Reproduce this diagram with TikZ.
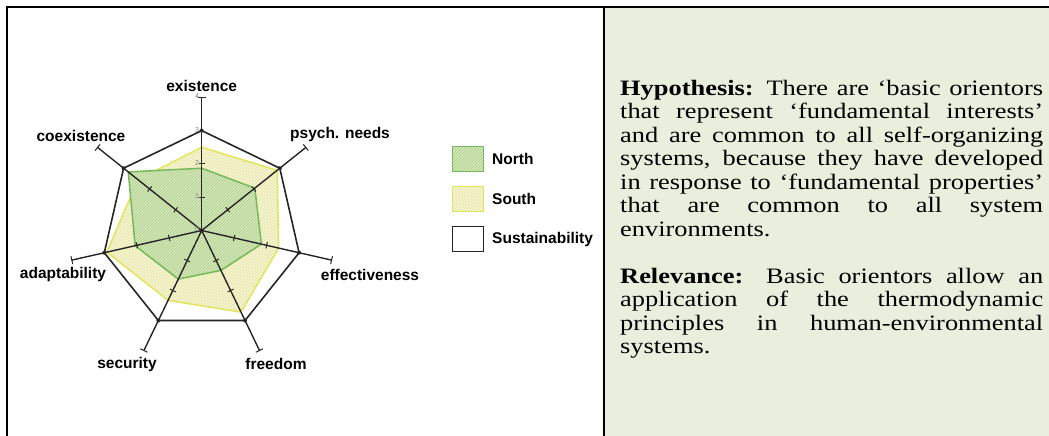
\documentclass[tikz,border=0pt]{standalone}
\usepackage{fontspec}
\setmainfont{Liberation Serif}
\setsansfont{Liberation Sans}
\newfontfamily\panelfont[FakeStretch=1.2]{Liberation Serif}
\usetikzlibrary{patterns,calc}

\definecolor{panelgreen}{RGB}{233,239,221}
\definecolor{axisgray}{RGB}{38,38,38}
\definecolor{northline}{RGB}{118,185,92}
\definecolor{northfill}{RGB}{214,232,188}
\definecolor{northhatch}{RGB}{168,205,132}
\definecolor{southline}{RGB}{226,229,92}
\definecolor{southfill}{RGB}{248,247,216}
\definecolor{southhatch}{RGB}{224,224,155}

\begin{document}
\begin{tikzpicture}[x=1pt,y=1pt,
  frameline/.style={line width=2pt,black},
  axisline/.style={line width=1.4pt,axisgray},
  tickmark/.style={line width=1pt,axisgray},
  sustline/.style={line width=1.6pt,axisgray,line join=miter},
  northarea/.style={draw=northline,line width=1.5pt,preaction={fill=northfill},pattern=north east lines,pattern color=northhatch},
  southarea/.style={draw=southline,line width=1.5pt,preaction={fill=southfill},pattern=north east lines,pattern color=southhatch},
  axislabel/.style={font=\sffamily\bfseries\fontsize{15.5}{17}\selectfont,inner sep=0pt},
  scalenum/.style={font=\sffamily\fontsize{7}{8}\selectfont,text=gray,inner sep=0pt},
  legendbox/.style={line width=1.5pt,minimum width=31pt,minimum height=25pt,inner sep=0pt},
  legendtext/.style={font=\sffamily\bfseries\fontsize{15.5}{17}\selectfont,anchor=west,inner sep=0pt}
]
\useasboundingbox (0,0) rectangle (1049,436);

% text panel background and frame
\fill[panelgreen] (605,0) rectangle (1049,428);
\draw[frameline] (7,0) -- (7,429) -- (1049,429);
\draw[frameline] (604,0) -- (604,429);

% radar chart, centred at C, one unit = \U
\def\U{33.3}
\coordinate (C) at (201.7,205.5);
\begin{scope}[shift={(C)}]
  % South and North areas
  \path[southarea] (90:{2.5*\U}) -- (38.571:{2.9*\U}) -- (-12.857:{2.37*\U}) -- (-64.286:{2.72*\U})
     -- (-115.714:{2.33*\U}) -- (-167.143:{2.92*\U}) -- (141.429:{2.45*\U}) -- cycle;
  \path[northarea] (90:{1.87*\U}) -- (38.571:{2.04*\U}) -- (-12.857:{1.84*\U}) -- (-64.286:{1.33*\U})
     -- (-115.714:{1.62*\U}) -- (-167.143:{2.05*\U}) -- (141.429:{2.82*\U}) -- cycle;
  % sustainability heptagon
  \draw[sustline] (90:{3*\U}) -- (38.571:{3*\U}) -- (-12.857:{3*\U}) -- (-64.286:{3*\U})
     -- (-115.714:{3*\U}) -- (-167.143:{3*\U}) -- (141.429:{3*\U}) -- cycle;
  % axes with ticks and end caps
  \foreach \k in {0,...,6}{
    \pgfmathsetmacro{\a}{90-360/7*\k}
    \coordinate (end\k) at (\a:{4*\U});
    \draw[axisline] (0,0) -- (end\k);
    \foreach \v in {1,2}{
      \draw[tickmark] ($(\a:{\v*\U})+(\a+90:3.2)$) -- ($(\a:{\v*\U})+(\a-90:3.2)$);
    }
    \draw[tickmark] ($(end\k)+(\a+90:4)$) -- ($(end\k)+(\a-90:4)$);
    \fill[axisgray] (\a:{3*\U}) circle (2pt);
  }
  \fill[axisgray] (0,0) circle (2pt);
  % scale numbers beside the existence axis
  \foreach \v in {0,...,4}{
    \node[scalenum,anchor=east] at (-2.5,{\v*\U+1}) {\v};
  }
\end{scope}

% axis labels
\node[axislabel] (lex) at (201.7,350) {existence};
\node[axislabel,anchor=west] (lps) at (290,302) {psych. needs};
\node[axislabel] (lco) at (81,300) {coexistence};
\node[axislabel] (lad) at (63,162) {adaptability};
\node[axislabel] (lef) at (370,161) {effectiveness};
\node[axislabel] (lse) at (127,72) {security};
\node[axislabel] (lfr) at (276,72) {freedom};

% legend
\node[legendbox,draw=northline,preaction={fill=northfill},pattern=north east lines,pattern color=northhatch] (bn) at (468,277) {};
\node[legendbox,draw=southline,preaction={fill=southfill},pattern=north east lines,pattern color=southhatch] (bs) at (468,237) {};
\node[legendbox,draw=axisgray,fill=white] (bsu) at (468,197) {};
\node[legendtext] (tn) at (492,277) {North};
\node[legendtext] (ts) at (492,237) {South};
\node[legendtext] (tsu) at (492,197) {Sustainability};

% explanatory text
\node[anchor=north west,inner sep=0pt,text width=423pt,align=justify,
      font=\panelfont\fontsize{22}{23.5}\selectfont] (txt) at (620,356) {%
\textbf{Hypothesis:} There are ‘basic orientors\linebreak
that represent ‘fundamental interests’\linebreak
and are common to all self-organizing\linebreak
systems, because they have developed\linebreak
in response to ‘fundamental properties’\linebreak
that are common to all system\linebreak
environments.\par\vspace{23.5pt}
\textbf{Relevance:} Basic orientors allow an\linebreak
application of the thermodynamic\linebreak
principles in human-environmental\linebreak
systems.};
\end{tikzpicture}
\end{document}
